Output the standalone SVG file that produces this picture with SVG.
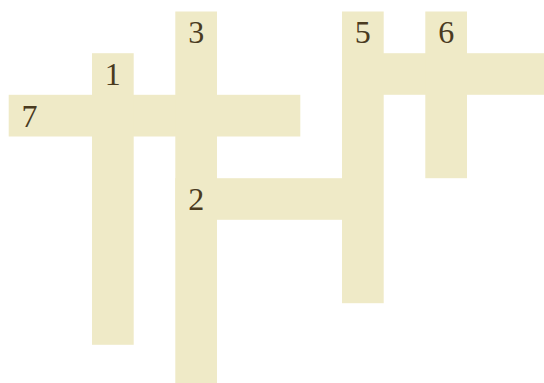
<svg xmlns="http://www.w3.org/2000/svg" width="544" height="383" viewBox="0 0 544 383">
<style>
.c{fill:#efeac7;stroke:none}
.n{font-family:"Liberation Serif","Times New Roman",serif;font-size:32px;fill:#4a3b1f;text-anchor:middle}
</style>
<rect width="544" height="383" fill="#ffffff"/>
<g id="w7"><rect class="c" x="8.7" y="94.8" width="291.6" height="41.7"/></g>
<g id="w1"><rect class="c" x="92" y="53.2" width="41.7" height="291.6"/></g>
<g id="w3"><rect class="c" x="175.3" y="11.5" width="41.7" height="375"/></g>
<g id="w2"><rect class="c" x="175.3" y="178.2" width="166.7" height="41.6"/></g>
<g id="w5"><rect class="c" x="342" y="11.5" width="41.7" height="291.7"/></g>
<g id="w5a"><rect class="c" x="342" y="53.2" width="210" height="41.6"/></g>
<g id="w6"><rect class="c" x="425.3" y="11.5" width="41.7" height="166.7"/></g>
<g id="labels">
<text class="n" x="29.5" y="126.7">7</text>
<text class="n" x="112.8" y="85">1</text>
<text class="n" x="196.2" y="43.3">3</text>
<text class="n" x="196.2" y="210">2</text>
<text class="n" x="362.8" y="43.3">5</text>
<text class="n" x="446.2" y="43.3">6</text>
</g>
<g id="connectors"></g>
</svg>
